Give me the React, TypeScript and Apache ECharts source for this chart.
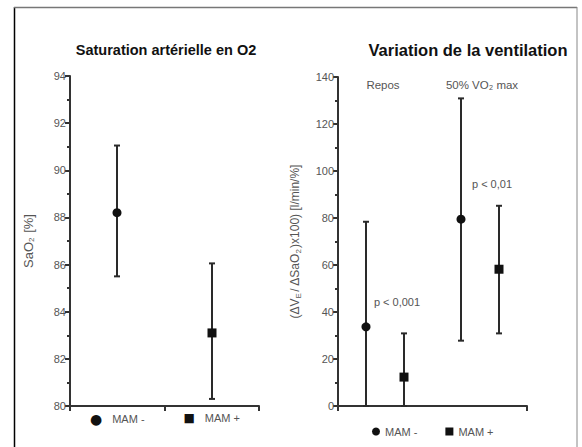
import React, { useEffect, useRef } from "react";
import * as echarts from "echarts";

const saoCategories = ["MAM -", "MAM +"];
const saoMean = [88.2, 83.1];
const saoLow = [85.5, 80.3];
const saoHigh = [91.05, 86.05];

const ventCategories = ["Repos", "50% VO₂ max"];
const ventMinusMean = [33.7, 79.5];
const ventMinusLow = [0, 27.8];
const ventMinusHigh = [78.4, 130.9];
const ventPlusMean = [12.3, 58.2];
const ventPlusLow = [0, 30.9];
const ventPlusHigh = [30.9, 85.2];

const LINE = "#2a2a2a";
const MARK = "#111";
const TXT = "#555";
const AXIS = "#333";
const FONT = "'Liberation Sans', Arial, sans-serif";

function makeRender(offsetFrac: number, shape: "circle" | "square") {
  return (params: any, api: any) => {
    const ci = api.value(0);
    const mean = api.value(1);
    const lo = api.value(2);
    const hi = api.value(3);
    const bw = api.size([1, 0])[0];
    const pM = api.coord([ci, mean]);
    const x = Math.round(pM[0] + offsetFrac * bw);
    const yM = pM[1];
    const yL = api.coord([ci, lo])[1];
    const yH = api.coord([ci, hi])[1];
    const cap = 3;
    const ls = { stroke: LINE, lineWidth: 2 };
    const children: any[] = [
      { type: "line", shape: { x1: x, y1: yL, x2: x, y2: yH }, style: ls },
      { type: "line", shape: { x1: x - cap, y1: yH, x2: x + cap, y2: yH }, style: ls },
      { type: "line", shape: { x1: x - cap, y1: yL, x2: x + cap, y2: yL }, style: ls },
    ];
    if (shape === "circle") {
      children.push({ type: "circle", shape: { cx: x, cy: yM, r: 4.5 }, style: { fill: MARK } });
    } else {
      children.push({ type: "rect", shape: { x: x - 4.5, y: yM - 4.5, width: 9, height: 9 }, style: { fill: MARK } });
    }
    return { type: "group", children };
  };
}

export default function App() {
  const ref = useRef<HTMLDivElement>(null);
  useEffect(() => {
    document.body.style.margin = "0";
    const chart = echarts.init(ref.current!, null, { renderer: "svg" });
    const axisLine = { show: true, onZero: false, lineStyle: { color: AXIS, width: 2, opacity: 1 } };
    const tick = { show: true, length: 5, lineStyle: { color: AXIS, width: 2, opacity: 1 } };
    const yCommon = {
      axisLine,
      axisTick: tick,
      minorTick: { show: true, splitNumber: 2, length: 3, lineStyle: { color: AXIS, width: 2, opacity: 1 } },
      splitLine: { show: false },
      axisLabel: { color: TXT, fontSize: 11, fontFamily: FONT, margin: 4 },
      nameLocation: "middle" as const,
    };
    chart.setOption({
      animation: false,
      backgroundColor: "#fff",
      textStyle: { fontFamily: FONT },
      grid: [
        { left: 70, top: 76, width: 189, height: 330 },
        { left: 338, top: 77, width: 189, height: 329 },
      ],
      xAxis: [
        {
          type: "category",
          gridIndex: 0,
          data: saoCategories,
          axisLine,
          axisTick: tick,
          axisLabel: {
            interval: 0,
            margin: 6,
            formatter: (v: string, i: number) =>
              (i === 0 ? "{m|●}" : "{q|■}") + "   {t|" + v + "}",
            rich: {
              m: { color: MARK, fontSize: 14, fontFamily: "'DejaVu Sans', sans-serif" },
              q: { color: MARK, fontSize: 12, fontFamily: "'DejaVu Sans', sans-serif" },
              t: { color: TXT, fontSize: 11, fontFamily: FONT },
            },
          },
        },
        {
          type: "category",
          gridIndex: 1,
          data: ventCategories,
          axisLine,
          axisTick: tick,
          axisLabel: { show: false },
        },
      ],
      yAxis: [
        {
          ...yCommon,
          type: "value",
          gridIndex: 0,
          min: 80,
          max: 94,
          interval: 2,
          name: "SaO{s|2} [%]",
          nameGap: 35,
          nameTextStyle: {
            color: TXT,
            fontSize: 13,
            fontFamily: FONT,
            rich: { s: { fontSize: 8, verticalAlign: "bottom", color: TXT, fontFamily: FONT, padding: [6, 1, 0, 0] } },
          },
        },
        {
          ...yCommon,
          type: "value",
          gridIndex: 1,
          min: 0,
          max: 140,
          interval: 20,
          name: "(ΔV{s|E}/ ΔSaO{s|2})x100) [l/min/%]",
          nameGap: 36,
          nameTextStyle: {
            color: TXT,
            fontSize: 12,
            fontFamily: FONT,
            rich: { s: { fontSize: 8, verticalAlign: "bottom", color: TXT, fontFamily: FONT, padding: [6, 1, 0, 0] } },
          },
        },
      ],
      legend: {
        left: 367,
        top: 421,
        itemWidth: 8,
        itemHeight: 8,
        itemGap: 28,
        textStyle: { color: TXT, fontSize: 11, fontFamily: FONT },
        data: [
          { name: "MAM -", icon: "circle" },
          { name: "MAM +", icon: "rect" },
        ],
      },
      series: [
        {
          type: "custom",
          name: "SaO2",
          xAxisIndex: 0,
          yAxisIndex: 0,
          clip: false,
          renderItem: (p: any, api: any) => {
            const idx = api.value(0);
            return makeRender(0, idx === 0 ? "circle" : "square")(p, api);
          },
          encode: { x: 0, y: 1 },
          data: saoCategories.map((_, i) => [i, saoMean[i], saoLow[i], saoHigh[i]]),
        },
        {
          type: "custom",
          name: "MAM -",
          xAxisIndex: 1,
          yAxisIndex: 1,
          clip: false,
          itemStyle: { color: MARK },
          renderItem: makeRender(-0.2, "circle"),
          encode: { x: 0, y: 1 },
          data: ventCategories.map((_, i) => [i, ventMinusMean[i], ventMinusLow[i], ventMinusHigh[i]]),
        },
        {
          type: "custom",
          name: "MAM +",
          xAxisIndex: 1,
          yAxisIndex: 1,
          clip: false,
          itemStyle: { color: MARK },
          renderItem: makeRender(0.2, "square"),
          encode: { x: 0, y: 1 },
          data: ventCategories.map((_, i) => [i, ventPlusMean[i], ventPlusLow[i], ventPlusHigh[i]]),
        },
      ],
      graphic: [
        { type: "line", shape: { x1: 14.5, y1: 7, x2: 14.5, y2: 447 }, style: { stroke: "#000", lineWidth: 1.5 } },
        { type: "line", shape: { x1: 14, y1: 7.5, x2: 577, y2: 7.5 }, style: { stroke: "#777", lineWidth: 1.5 } },
        { type: "line", shape: { x1: 577, y1: 7, x2: 577, y2: 447 }, style: { stroke: "#888", lineWidth: 1 } },
        {
          type: "text", x: 166, y: 50,
          style: { text: "Saturation artérielle en O2", fill: "#111", font: `bold 14.5px ${FONT}`, align: "center", verticalAlign: "middle" },
        },
        {
          type: "text", x: 468, y: 50,
          style: { text: "Variation de la ventilation", fill: "#111", font: `bold 16.5px ${FONT}`, align: "center", verticalAlign: "middle" },
        },
        {
          type: "text", x: 383, y: 85,
          style: { text: "Repos", fill: TXT, font: `11.5px ${FONT}`, align: "center", verticalAlign: "middle" },
        },
        {
          type: "text", x: 482, y: 85,
          style: { text: "50% VO₂ max", fill: TXT, font: `11.5px ${FONT}`, align: "center", verticalAlign: "middle" },
        },
        {
          type: "text", x: 492, y: 184,
          style: { text: "p < 0,01", fill: TXT, font: `11px ${FONT}`, align: "center", verticalAlign: "middle" },
        },
        {
          type: "text", x: 397, y: 302,
          style: { text: "p < 0,001", fill: TXT, font: `11px ${FONT}`, align: "center", verticalAlign: "middle" },
        },
      ],
    });
    return () => chart.dispose();
  }, []);
  return (
    <div style={{ position: "fixed", left: 0, top: 0 }}>
      <div ref={ref} style={{ width: 582, height: 447 }} />
    </div>
  );
}
